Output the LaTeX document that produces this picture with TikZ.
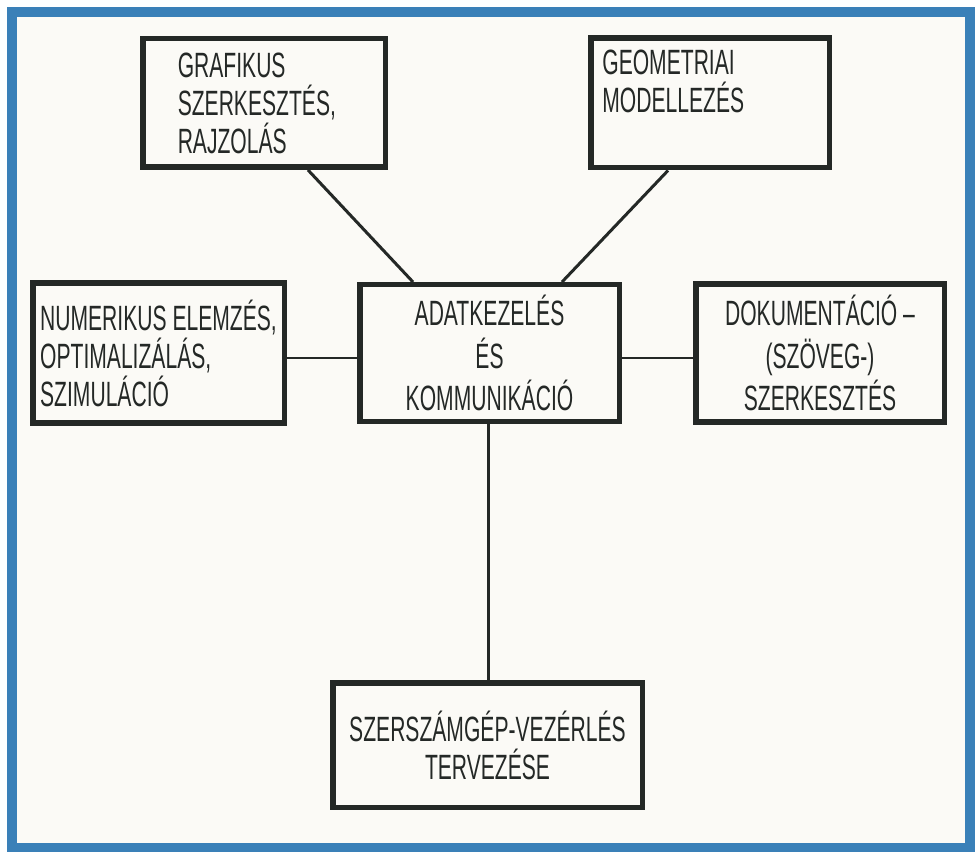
\documentclass[tikz,border=0pt]{standalone}
\usepackage{fontspec}
\newfontfamily\boxfont{Liberation Sans}[FakeStretch=0.6]
\usetikzlibrary{positioning}
\definecolor{ink}{RGB}{36,40,38}
\definecolor{frameblue}{RGB}{58,128,184}
\definecolor{paper}{RGB}{251,250,246}
\tikzstyle{box} = [rectangle, draw=ink, line width=0.11cm, text=ink, font=\boxfont\fontsize{20}{21.6}\selectfont]
\tikzstyle{wide} = [font=\boxfont\fontsize{20}{24.4}\selectfont]
\tikzstyle{link} = [draw=ink, line width=0.06cm]

\begin{document}
\begin{tikzpicture}[node distance=5cm]
	\useasboundingbox (0,0) rectangle (19.6,17.02);
	\fill [paper] (0.24,0.06) rectangle (19.40,16.78);
	\draw [frameblue, line width=0.2cm] (0.24,0.06) rectangle (19.40,16.78);

	\node (adat) [box, wide, minimum width=5.19cm, minimum height=2.73cm, align=center] at (9.79,9.96) {ADATKEZELÉS\\ÉS\\KOMMUNIKÁCIÓ};
	\node (graf) [box, above of=adat, xshift=-4.51cm, minimum width=4.85cm, minimum height=2.57cm, text width=3.45cm, align=left] {GRAFIKUS\\SZERKESZTÉS,\\RAJZOLÁS};
	\node (geo) [box, above of=adat, xshift=4.41cm, minimum width=4.77cm, minimum height=2.59cm] {};
	\node (geotxt) [anchor=north west, inner sep=0pt, align=left, text=ink, font=\boxfont\fontsize{20}{21.6}\selectfont] at ([xshift=0.28cm, yshift=-0.28cm]geo.north west) {GEOMETRIAI\\MODELLEZÉS};
	\node (num) [box, left of=adat, xshift=-1.62cm, minimum width=5.03cm, minimum height=2.79cm, align=left] {NUMERIKUS ELEMZÉS,\\OPTIMALIZÁLÁS,\\SZIMULÁCIÓ};
	\node (dok) [box, wide, right of=adat, xshift=1.61cm, minimum width=4.97cm, minimum height=2.75cm, align=center] {DOKUMENTÁCIÓ –\\(SZÖVEG-)\\SZERKESZTÉS};
	\node (szer) [box, below of=adat, xshift=-0.04cm, yshift=-2.84cm, minimum width=6.19cm, minimum height=2.49cm, align=center] {SZERSZÁMGÉP-VEZÉRLÉS\\TERVEZÉSE};

	\draw [link] ([xshift=0.88cm]graf.south) -- ([xshift=-1.53cm]adat.north);
	\draw [link] ([xshift=-0.84cm]geo.south) -- ([xshift=1.45cm]adat.north);
	\draw [link] ([yshift=-0.1cm]num.east) -- ([yshift=-0.1cm]adat.west);
	\draw [link] ([yshift=-0.1cm]adat.east) -- ([yshift=-0.1cm]dok.west);
	\draw [link] ([xshift=-0.03cm]adat.south) -- ([xshift=-0.03cm]adat.south |- szer.north);
\end{tikzpicture}
\end{document}
